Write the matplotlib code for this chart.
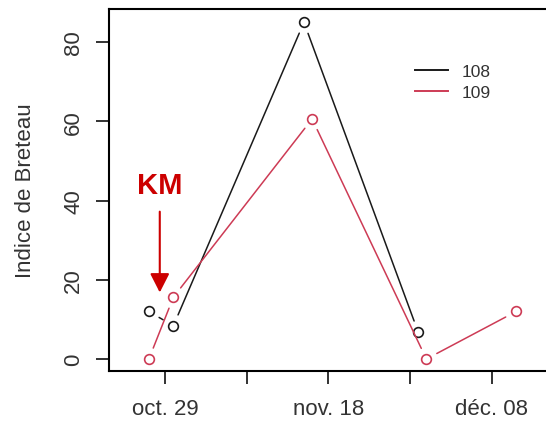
import matplotlib
matplotlib.use("Agg")
import matplotlib.pyplot as plt
from matplotlib.lines import Line2D
from datetime import datetime, timedelta

plt.rcParams['font.family'] = ['Liberation Sans', 'DejaVu Sans']

# data
dates_108 = ["2019-10-27", "2019-10-30", "2019-11-15", "2019-11-29"]
vals_108 = [12.0, 8.4, 85.0, 6.8]
dates_109 = ["2019-10-27", "2019-10-30", "2019-11-16", "2019-11-30", "2019-12-11"]
vals_109 = [0.0, 15.6, 60.6, 0.0, 12.0]
series_names = ["108", "109"]
tick_dates = ["2019-10-29", "2019-11-08", "2019-11-18", "2019-11-28", "2019-12-08"]
tick_labels = ["oct. 29", "", "nov. 18", "", "déc. 08"]
km_date = "2019-10-28 08:00"

col_108 = "#1a1a1a"
col_109 = "#CD3B55"
col_km = "#CC0000"

def todate(s):
    fmt = "%Y-%m-%d %H:%M" if " " in s else "%Y-%m-%d"
    return datetime.strptime(s, fmt)

fig = plt.figure(figsize=(5.46, 4.27), dpi=100)
ax = fig.add_axes([0.199, 0.129, 0.83, 0.848])

def draw_series(ax, dates, vals, color):
    x = [todate(d) for d in dates]
    ax.plot(x, vals, 'o', mfc='none', mec=color, ms=7, mew=1.2, zorder=3)
    # R type="b": segments leave a gap round each point
    for i in range(len(x) - 1):
        ax.annotate("", xy=(x[i + 1], vals[i + 1]), xytext=(x[i], vals[i]),
                    arrowprops=dict(arrowstyle='-', color=color, lw=1.1,
                                    shrinkA=8.5, shrinkB=8.5))

draw_series(ax, dates_108, vals_108, col_108)
draw_series(ax, dates_109, vals_109, col_109)

x0 = todate(tick_dates[0])
ax.set_xlim(x0 - timedelta(days=6.93), x0 + timedelta(days=48.6))
ax.set_ylim(-3.0, 88.4)

ax.set_xticks([todate(d) for d in tick_dates])
ax.set_xticklabels(tick_labels, fontsize=16)
ax.set_yticks([0, 20, 40, 60, 80])
ax.set_yticklabels(["0", "20", "40", "60", "80"], fontsize=16, rotation=90, va='center')
ax.tick_params(length=9.5, width=1.3, pad=8, colors='#222222', labelcolor='#333333')
ax.tick_params(axis='x', pad=10)
for sp in ax.spines.values():
    sp.set_linewidth(1.5)
ax.set_ylabel("Indice de Breteau", fontsize=16, labelpad=20, color='#333333')

handles = [Line2D([], [], color=col_108, lw=1.4), Line2D([], [], color=col_109, lw=1.4)]
ax.legend(handles, series_names, frameon=False, loc='upper left',
          bbox_to_anchor=(0.745, 0.868), bbox_transform=fig.transFigure,
          fontsize=12.5, handlelength=1.9, handletextpad=0.75,
          labelspacing=0.35, borderpad=0, labelcolor='#333333')

# KM marker
km = todate(km_date)
ax.text(km, 44, "KM", color=col_km, fontsize=21, fontweight='bold',
        ha='center', va='center')
ax.annotate("", xy=(km, 16.8), xytext=(km, 37.2),
            arrowprops=dict(arrowstyle='-|>,head_length=0.55,head_width=0.28',
                            color=col_km, lw=1.5, mutation_scale=21,
                            shrinkA=0, shrinkB=0))

fig.savefig("out.png", dpi=100)
